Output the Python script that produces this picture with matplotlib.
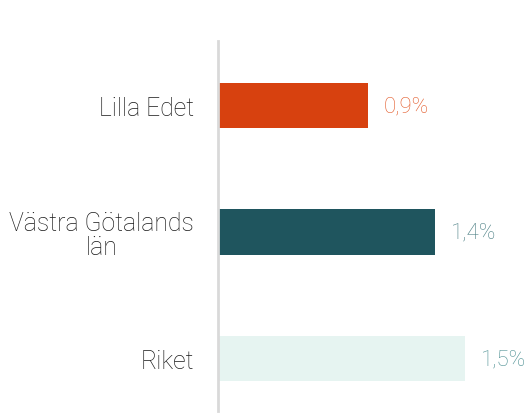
import matplotlib
matplotlib.use('agg')
from matplotlib import pyplot as plt

categories = ['Lilla Edet', 'Västra Götalands\nlän', 'Riket']
values = [0.91, 1.32, 1.50]
value_labels = ['0,9%', '1,4%', '1,5%']
bar_colors = ['#D7410F', '#1F555E', '#E6F4F1']
label_colors = ['#E35C2C', '#4D8085', '#4F9194']

plt.rcParams['font.family'] = ['Roboto', 'DejaVu Sans']

fig = plt.figure(figsize=(5.26, 4.14), dpi=100)
ax = fig.add_axes([217.5 / 526, 2 / 414, 1 - 217.5 / 526, 370 / 414])

pos = range(len(categories))
ax.barh(pos, values, height=0.356, color=bar_colors)

for i, (v, lab) in enumerate(zip(values, value_labels)):
    ax.text(v + 0.095, i, lab, va='center', ha='left', fontsize=16,
            color=label_colors[i], fontweight='light')

ax.set_yticks(list(pos))
ax.set_yticklabels(categories, fontsize=17.8, color='#1A1A1A', fontweight='light',
                   linespacing=1.05, multialignment='center')
ax.tick_params(axis='y', length=0, pad=17)
ax.set_xticks([])
ax.set_xlim(0, (526 - 217.5) / 165)
ax.set_ylim(2.415, -0.51)

for s in ['top', 'right', 'bottom']:
    ax.spines[s].set_visible(False)
ax.spines['left'].set_color('#D9D9D9')
ax.spines['left'].set_linewidth(2)

fig.savefig('out.png', dpi=100)
